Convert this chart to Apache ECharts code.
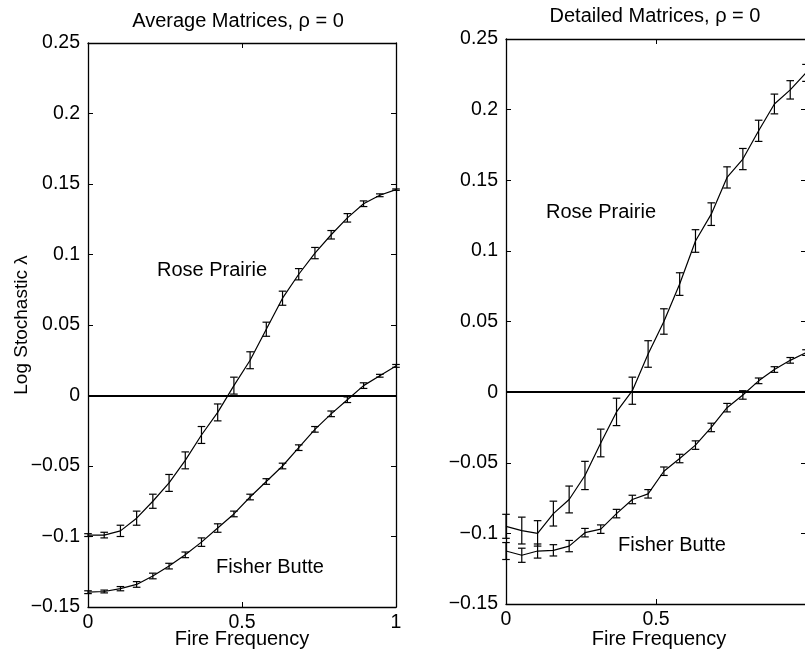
<!DOCTYPE html>
<html>
<head>
<meta charset="utf-8">
<script src="https://cdn.jsdelivr.net/npm/echarts@6/dist/echarts.min.js"></script>
<style>
html,body{margin:0;padding:0;background:#fff;overflow:hidden;}
#chart{width:805px;height:658px;}
</style>
</head>
<body>
<div id="chart"></div>
<script>
// ---- data ----
var fireFreq = [0, 0.0526, 0.1053, 0.1579, 0.2105, 0.2632, 0.3158, 0.3684, 0.4211, 0.4737,
                0.5263, 0.5789, 0.6316, 0.6842, 0.7368, 0.7895, 0.8421, 0.8947, 0.9474, 1];

var avgRoseMean = [-0.099, -0.099, -0.096, -0.087, -0.075, -0.062, -0.046, -0.028, -0.012, 0.007,
                   0.025, 0.047, 0.069, 0.086, 0.101, 0.114, 0.126, 0.136, 0.142, 0.146];
var avgRoseErr  = [0.001, 0.002, 0.004, 0.005, 0.005, 0.006, 0.006, 0.006, 0.006, 0.006,
                   0.006, 0.005, 0.005, 0.004, 0.004, 0.003, 0.003, 0.002, 0.001, 0.0005];

var avgFisherMean = [-0.1395, -0.139, -0.137, -0.134, -0.128, -0.121, -0.113, -0.104, -0.094, -0.084,
                     -0.072, -0.061, -0.050, -0.037, -0.024, -0.013, -0.003, 0.007, 0.014, 0.021];
var avgFisherErr  = [0.001, 0.001, 0.0015, 0.002, 0.002, 0.002, 0.002, 0.003, 0.003, 0.002,
                     0.002, 0.002, 0.002, 0.002, 0.002, 0.002, 0.002, 0.002, 0.001, 0.001];

var detRoseMean = [-0.095, -0.098, -0.100, -0.086, -0.076, -0.059, -0.036, -0.014, 0.001, 0.027,
                   0.050, 0.0765, 0.107, 0.126, 0.152, 0.165, 0.185, 0.204, 0.214, 0.226];
var detRoseErr  = [0.0085, 0.0095, 0.009, 0.0088, 0.0095, 0.010, 0.0098, 0.0097, 0.0096, 0.0094,
                   0.009, 0.008, 0.008, 0.008, 0.0075, 0.0075, 0.0075, 0.007, 0.0065, 0.006];

var detFisherMean = [-0.1125, -0.1155, -0.1125, -0.112, -0.109, -0.0995, -0.097, -0.086, -0.076, -0.072,
                     -0.056, -0.047, -0.0375, -0.025, -0.011, -0.002, 0.008, 0.016, 0.0225, 0.028];
var detFisherErr  = [0.006, 0.005, 0.005, 0.004, 0.004, 0.003, 0.003, 0.003, 0.003, 0.003,
                     0.003, 0.003, 0.003, 0.003, 0.003, 0.003, 0.002, 0.002, 0.002, 0.002];

var xTickLabels = ['0', '0.5', '1'];
var yTickLabels = ['\u22120.15', '\u22120.1', '\u22120.05', '0', '0.05', '0.1', '0.15', '0.2', '0.25'];

var panelTitles = ['Average Matrices, \u03c1 = 0', 'Detailed Matrices, \u03c1 = 0'];
var xAxisTitle = 'Fire Frequency';
var yAxisTitle = 'Log Stochastic \u03bb';
var siteNames = ['Rose Prairie', 'Fisher Butte'];

// ---- build ----
var FONT = '"Liberation Sans", Arial, Helvetica, sans-serif';
var FS_TICK = 19.5;
var FS_TEXT = 20;

function pairs(mean) { return fireFreq.map(function (x, i) { return [x, mean[i]]; }); }
function bars(mean, err) { return fireFreq.map(function (x, i) { return [x, mean[i] - err[i], mean[i] + err[i]]; }); }

function errRender(params, api) {
  var x = api.value(0);
  var lo = api.coord([x, api.value(1)]);
  var hi = api.coord([x, api.value(2)]);
  var c = 3.8;
  var st = { stroke: '#000', lineWidth: 1.2 };
  return {
    type: 'group',
    children: [
      { type: 'line', shape: { x1: lo[0], y1: lo[1], x2: hi[0], y2: hi[1] }, style: st },
      { type: 'line', shape: { x1: hi[0] - c, y1: hi[1], x2: hi[0] + c, y2: hi[1] }, style: st },
      { type: 'line', shape: { x1: lo[0] - c, y1: lo[1], x2: lo[0] + c, y2: lo[1] }, style: st }
    ]
  };
}

function xAx(grid, pos, labels, showMax) {
  return {
    gridIndex: grid, type: 'value', position: pos, min: 0, max: 1, interval: 0.5,
    axisLine: { show: true, onZero: false, lineStyle: { color: '#000', width: 1.3 } },
    axisTick: { show: true, inside: true, length: 5, lineStyle: { color: '#000', width: 1 } },
    axisLabel: {
      show: labels, margin: 6, color: '#000', fontFamily: FONT, fontSize: FS_TICK,
      showMaxLabel: showMax,
      formatter: function (v) { return xTickLabels[Math.round(v / 0.5)]; }
    },
    splitLine: { show: false }
  };
}
function yAx(grid, pos, labels) {
  return {
    gridIndex: grid, type: 'value', position: pos, min: -0.15, max: 0.25, interval: 0.05,
    axisLine: { show: true, onZero: false, lineStyle: { color: '#000', width: 1.3 } },
    axisTick: { show: true, inside: true, length: 5, lineStyle: { color: '#000', width: 1 } },
    axisLabel: {
      show: labels, margin: 8, color: '#000', fontFamily: FONT, fontSize: FS_TICK,
      formatter: function (v) { return yTickLabels[Math.round((v + 0.15) / 0.05)]; }
    },
    splitLine: { show: false }
  };
}

function lineSeries(ax, mean, withZero) {
  var s = {
    type: 'line', xAxisIndex: ax, yAxisIndex: ax, data: pairs(mean),
    symbol: 'none', smooth: false, animation: false, silent: true,
    lineStyle: { color: '#000', width: 1.2 }, z: 3
  };
  if (withZero) {
    s.markLine = {
      silent: true, symbol: ['none', 'none'], animation: false,
      label: { show: false },
      lineStyle: { color: '#000', width: 2, type: 'solid' },
      data: [{ yAxis: 0 }]
    };
  }
  return s;
}
function errSeries(ax, mean, err) {
  return {
    type: 'custom', xAxisIndex: ax, yAxisIndex: ax, data: bars(mean, err),
    renderItem: errRender, animation: false, silent: true, z: 4,
    encode: { x: 0, y: [1, 2] }
  };
}

function txt(x, y, s, size, rot) {
  var el = {
    type: 'text', x: x, y: y, silent: true,
    style: {
      text: s, fill: '#000', font: size + 'px ' + FONT,
      align: 'center', verticalAlign: 'middle',
      textAlign: 'center', textVerticalAlign: 'middle'
    }
  };
  if (rot) el.rotation = rot;
  return el;
}

var option = {
  backgroundColor: '#fff',
  animation: false,
  grid: [
    { left: 88, top: 43, width: 308, height: 564, outerBoundsMode: 'none', containLabel: false },
    { left: 506, top: 39, width: 300, height: 565, outerBoundsMode: 'none', containLabel: false }
  ],
  xAxis: [xAx(0, 'bottom', true, true), xAx(0, 'top', false, true), xAx(1, 'bottom', true, false), xAx(1, 'top', false, false)],
  yAxis: [yAx(0, 'left', true), yAx(0, 'right', false), yAx(1, 'left', true), yAx(1, 'right', false)],
  series: [
    lineSeries(0, avgRoseMean, true), errSeries(0, avgRoseMean, avgRoseErr),
    lineSeries(0, avgFisherMean, false), errSeries(0, avgFisherMean, avgFisherErr),
    lineSeries(2, detRoseMean, true), errSeries(2, detRoseMean, detRoseErr),
    lineSeries(2, detFisherMean, false), errSeries(2, detFisherMean, detFisherErr)
  ],
  graphic: [
    txt(238, 21, panelTitles[0], FS_TEXT),
    txt(655, 16, panelTitles[1], FS_TEXT),
    txt(242, 639, xAxisTitle, FS_TEXT),
    txt(659, 639, xAxisTitle, FS_TEXT),
    txt(22, 325, yAxisTitle, 19, Math.PI / 2),
    txt(212, 270, siteNames[0], FS_TEXT),
    txt(270, 567, siteNames[1], FS_TEXT),
    txt(601, 212, siteNames[0], FS_TEXT),
    txt(672, 545, siteNames[1], FS_TEXT)
  ]
};

var chart = echarts.init(document.getElementById('chart'), null, { renderer: 'canvas' });
chart.setOption(option);
</script>
</body>
</html>
